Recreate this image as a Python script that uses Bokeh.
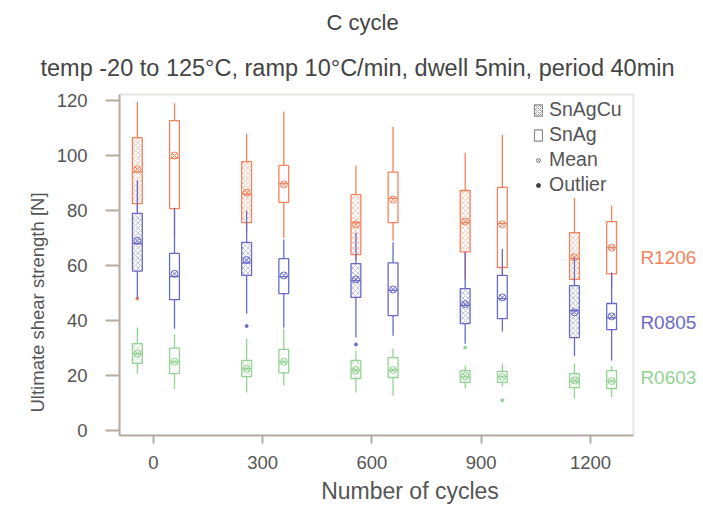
import pandas as pd
from bokeh.plotting import figure
from bokeh.models import (ColumnDataSource, Legend, LegendItem, Range1d, FixedTicker,
                          BoxAnnotation, Title)
from bokeh.embed import file_html
from bokeh.resources import INLINE
from bokeh.core.properties import value

# ---------------- data ----------------
cycles = [0, 300, 600, 900, 1200]
y_ticks = [0, 20, 40, 60, 80, 100, 120]

# R1206 (orange)
R1206_SnAgCu = dict(lo=[80, 72, 62, 55, 53.5], q1=[82.5, 75.6, 64, 65, 55], med=[94, 86, 75.6, 75.6, 62.5],
                    q3=[106.5, 97.8, 85.8, 87.3, 72], hi=[119.6, 108, 96.4, 101, 84.7], mean=[95, 86.5, 75, 76, 63])
R1206_SnAg = dict(lo=[70, 70, 69, 57, 52], q1=[80.7, 83, 75.6, 59.3, 57], med=[99, 89.8, 84.4, 75.3, 66.5],
                  q3=[112.7, 96.4, 94, 88.4, 76], hi=[119, 116, 110.5, 107.6, 81.8], mean=[100, 89.5, 84, 75, 66.5])
# R0805 (blue)
R0805_SnAgCu = dict(lo=[48, 42.5, 33.8, 31.6, 27], q1=[58, 56.4, 48.4, 38.9, 33.8], med=[68, 61, 54.5, 45.5, 43.6],
                    q3=[79, 68.4, 60.7, 51.6, 52.7], hi=[91, 80, 72, 65, 63], mean=[69, 62, 55, 46, 43])
R0805_SnAg = dict(lo=[37, 37.5, 34.5, 36, 25.5], q1=[47.6, 49.8, 41.8, 40.7, 36.7], med=[56, 56, 51, 48, 41],
                  q3=[64.4, 62.5, 61, 56.4, 46.2], hi=[81, 69.5, 68.5, 66, 57.5], mean=[57, 56.4, 51.3, 48.4, 41.5])
# R0603 (green)
R0603_SnAgCu = dict(lo=[20.7, 13.8, 13.8, 15.3, 11.6], q1=[24.4, 19.6, 18.9, 17.5, 15.6], med=[28, 22.5, 22, 19.5, 18],
                    q3=[31.6, 25.5, 25.5, 21.8, 20.7], hi=[37.5, 33.5, 29, 23.6, 24.4], mean=[28, 22.5, 22, 19.8, 18.2])
R0603_SnAg = dict(lo=[15, 16.4, 12.7, 16, 12], q1=[20.7, 21, 19.3, 17.5, 15.3], med=[25, 25, 22, 19.5, 18],
                  q3=[30, 29.5, 26.5, 21.5, 21.8], hi=[35, 37, 29.8, 24.4, 23.6], mean=[25, 25, 22, 19.5, 18])

# outliers
outlier_component = ["R1206", "R0805", "R0805", "R0603", "R0603"]
outlier_alloy = ["SnAgCu", "SnAgCu", "SnAgCu", "SnAgCu", "SnAg"]
outlier_cycle = [0, 300, 600, 900, 900]
outlier_value = [48, 38, 31.3, 30.2, 11]

components = ["R1206", "R0805", "R0603"]
component_label_y = [62.9, 39.3, 19.3]

title_text = "C cycle"
subtitle_text = "temp -20 to 125°C, ramp 10°C/min, dwell 5min, period 40min"
x_label = "Number of cycles"
y_label = "Ultimate shear strength [N]"

# ---------------- style ----------------
colors = {"R1206": "#F3835C", "R0805": "#6A6AC6", "R0603": "#93D393"}
offset = {"SnAgCu": -44, "SnAg": 58}
box_w = 27
FONT = "Liberation Sans"
frame_col = "#B5ACA2"
text_col = "#555555"
x_box = (-93, 1318)      # visible box extents (x)
y_box = (-1.8, 122.2)    # visible box extents (y)
label_x = 1337

p = figure(width=703, height=507, frame_width=581, frame_height=343,
           min_border_left=119, min_border_right=3, min_border_top=92, min_border_bottom=72,
           x_range=Range1d(-93, 1502), y_range=Range1d(-1.8, 122.93),
           output_backend="svg", toolbar_location=None)

p.xgrid.visible = False
p.ygrid.visible = False
p.outline_line_color = None
p.background_fill_color = "white"
p.border_fill_color = "white"

for ax in (p.xaxis[0], p.yaxis[0]):
    ax.axis_line_color = frame_col
    ax.axis_line_width = 2
    ax.major_tick_line_color = frame_col
    ax.major_tick_line_width = 2
    ax.minor_tick_line_color = None
    ax.major_tick_in = 0
    ax.major_label_text_font = FONT
    ax.major_label_text_font_size = "18.5px"
    ax.major_label_text_color = text_col
    ax.axis_label_text_font = FONT
    ax.axis_label_text_font_style = "normal"
    ax.axis_label_text_color = text_col

p.xaxis.ticker = FixedTicker(ticks=cycles)
p.yaxis.ticker = FixedTicker(ticks=y_ticks)
p.xaxis.bounds = x_box
p.yaxis.bounds = y_box
p.xaxis.major_tick_out = 8
p.yaxis.major_tick_out = 14
p.xaxis.major_label_standoff = 12
p.yaxis.major_label_standoff = 18
p.xaxis.axis_label = x_label
p.xaxis.axis_label_text_font_size = "23px"
p.xaxis.axis_label_standoff = 6

# y-axis title placed as a side title so it can sit where the original puts it
p.add_layout(Title(text=y_label, align="left", offset=23, standoff=12,
                   text_font=FONT, text_font_size="18.5px", text_font_style="normal",
                   text_color=text_col), "left")

# visible plot box
p.add_layout(BoxAnnotation(left=x_box[0], right=x_box[1], bottom=y_box[0], top=y_box[1],
                           fill_alpha=0, line_color=frame_col, line_width=2))

data = {("R1206", "SnAgCu"): R1206_SnAgCu, ("R1206", "SnAg"): R1206_SnAg,
        ("R0805", "SnAgCu"): R0805_SnAgCu, ("R0805", "SnAg"): R0805_SnAg,
        ("R0603", "SnAgCu"): R0603_SnAgCu, ("R0603", "SnAg"): R0603_SnAg}

odf = pd.DataFrame(dict(comp=outlier_component, alloy=outlier_alloy, cyc=outlier_cycle, val=outlier_value))

for comp in components:
    col = colors[comp]
    for alloy in ["SnAgCu", "SnAg"]:
        df = pd.DataFrame(data[(comp, alloy)])
        df["x"] = [c + offset[alloy] for c in cycles]
        df["left"] = df["x"] - box_w / 2
        df["right"] = df["x"] + box_w / 2
        src = ColumnDataSource(df)
        p.segment(x0="x", y0="lo", x1="x", y1="q1", source=src, line_color=col, line_width=1.3)
        p.segment(x0="x", y0="q3", x1="x", y1="hi", source=src, line_color=col, line_width=1.3)
        kw = {}
        if alloy == "SnAgCu":
            kw = dict(hatch_pattern="diagonal_cross", hatch_color=col, hatch_scale=5,
                      hatch_weight=0.8, hatch_alpha=0.5)
        p.quad(left="left", right="right", top="q3", bottom="q1", source=src,
               fill_alpha=0, line_color=col, line_width=1.3, **kw)
        p.segment(x0="left", y0="med", x1="right", y1="med", source=src, line_color=col, line_width=1.2)
        p.scatter(x="x", y="mean", source=src, marker="circle_x", size=7,
                  line_color=col, fill_alpha=0, line_width=1)
        sub = odf[(odf.comp == comp) & (odf.alloy == alloy)].copy()
        sub["x"] = [c + offset[alloy] for c in sub["cyc"]]
        p.scatter(x="x", y="val", source=ColumnDataSource(sub), marker="circle", size=3,
                  line_color=col, fill_color=col)

# component labels on the right
lab = pd.DataFrame(dict(y=component_label_y, text=components, color=[colors[c] for c in components]))
lab["x"] = label_x
p.text(x="x", y="y", text="text", text_color="color", source=ColumnDataSource(lab),
       text_font=value(FONT), text_font_size="19px", text_baseline="middle", text_align="left")

# legend (grey symbols, renderers carry no visible points)
g = "#8A8A8A"
nan = float("nan")
qsrc = dict(left=[nan], right=[nan], top=[nan], bottom=[nan])
r1 = p.quad(source=ColumnDataSource(qsrc), left="left", right="right", top="top", bottom="bottom",
            fill_alpha=0, line_color=g, hatch_pattern="diagonal_cross", hatch_color=g, hatch_scale=4,
            hatch_weight=0.8, line_width=1.2)
r2 = p.quad(source=ColumnDataSource(qsrc), left="left", right="right", top="top", bottom="bottom",
            fill_alpha=0, line_color=g, line_width=1.2)
r3 = p.scatter(source=ColumnDataSource(dict(x=[nan], y=[nan])), x="x", y="y", marker="circle_x", size=9,
               line_color=g, fill_alpha=0)
r4 = p.scatter(source=ColumnDataSource(dict(x=[nan], y=[nan])), x="x", y="y", marker="circle", size=3,
               line_color="#444444", fill_color="#444444")
legend = Legend(items=[LegendItem(label="SnAgCu", renderers=[r1]), LegendItem(label="SnAg", renderers=[r2]),
                       LegendItem(label="Mean", renderers=[r3]), LegendItem(label="Outlier", renderers=[r4])],
                location=(414, 239), glyph_width=10, glyph_height=14, label_height=14, spacing=2,
                padding=0, margin=0, label_standoff=6, border_line_color=None,
                background_fill_alpha=0, label_text_font=FONT, label_text_font_size="19.5px",
                label_text_color=text_col)
p.add_layout(legend, "center")

# titles (later-added sits further from the frame)
p.add_layout(Title(text=subtitle_text, align="left", offset=-79, standoff=23,
                   text_font=FONT, text_font_size="23.5px", text_font_style="normal",
                   text_color="#444444"), "above")
p.add_layout(Title(text=title_text, align="left", offset=207, standoff=14,
                   text_font=FONT, text_font_size="22px", text_font_style="normal",
                   text_color="#444444"), "above")

open("out.html", "w").write(file_html(p, INLINE))
